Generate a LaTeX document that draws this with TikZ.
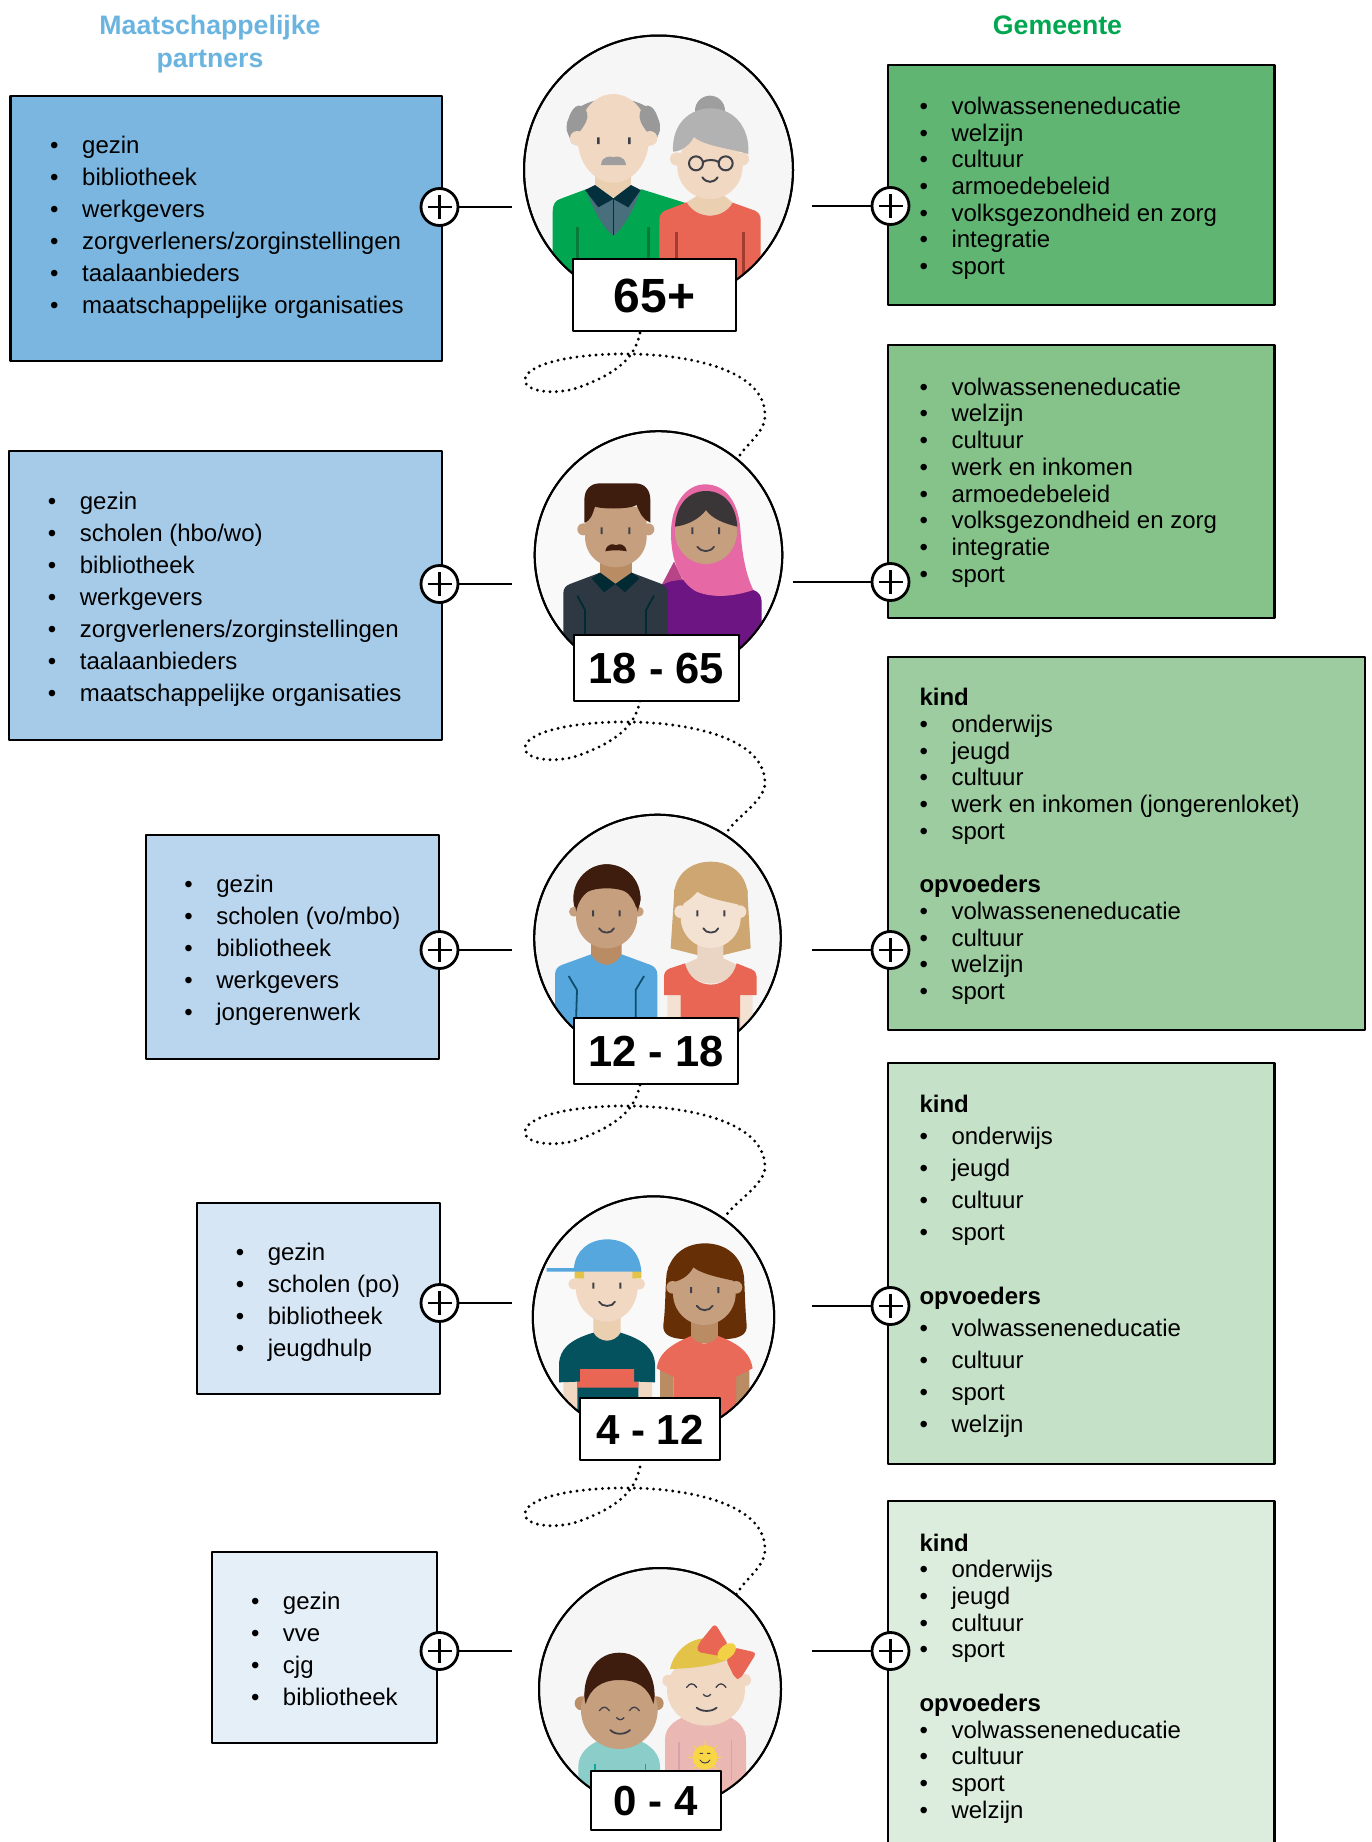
\documentclass[tikz,border=0pt]{standalone}
\usepackage{fontspec}
\setmainfont{Liberation Sans}
\definecolor{cL1}{HTML}{7AB6DF}
\definecolor{cL2}{HTML}{A5CBE9}
\definecolor{cL3}{HTML}{BAD6EE}
\definecolor{cL4}{HTML}{D6E6F5}
\definecolor{cL5}{HTML}{E5EFF8}
\definecolor{cR1}{HTML}{60B572}
\definecolor{cR2}{HTML}{85C38A}
\definecolor{cR3}{HTML}{9CCC9F}
\definecolor{cR4}{HTML}{C5E1C8}
\definecolor{cR5}{HTML}{DCEDDD}
\definecolor{tblue}{HTML}{6CB4E0}
\definecolor{tgreen}{HTML}{00A650}
\definecolor{skinA}{HTML}{F1D8C3}
\definecolor{neckA}{HTML}{EBCFB1}
\definecolor{skinB}{HTML}{C69F7F}
\definecolor{neckB}{HTML}{B98C63}
\definecolor{skinC}{HTML}{F3E1D2}
\definecolor{neckC}{HTML}{EAD5C4}
\definecolor{darkbr}{HTML}{3E1C0E}
\definecolor{gface}{HTML}{3F3F48}
\definecolor{coral}{HTML}{E96554}
\definecolor{sky}{HTML}{56A7DE}
\definecolor{yell}{HTML}{E3C448}
\pgfdeclarelayer{bg}
\pgfsetlayers{bg,main}
\tikzset{
  bx/.style={draw=black,line width=2.8pt,inner sep=0pt,outer sep=0pt,anchor=north west},
  ring/.style={circle,draw=black,line width=2pt,inner sep=0pt,outer sep=0pt},
  lbl/.style={draw=black,fill=white,line width=2.2pt,inner sep=0pt,outer sep=0pt,font=\bfseries},
  plusn/.style={circle,draw=black,fill=white,line width=2.8pt,minimum size=37pt,inner sep=0pt,outer sep=0pt,
    path picture={\draw[line width=2.2pt] (path picture bounding box.center) ++(-12,0) -- ++(24,0) ++(-12,-12) -- ++(0,24);}},
  conn/.style={draw=black,line width=2.8pt},
  dots/.style={draw=black,line width=3.2pt,line cap=round,dash pattern=on 0pt off 6.4pt},
  fea/.style={draw=gface,line width=1.8pt,line cap=round,fill=none},
  ttl/.style={font=\fontsize{26.7}{33}\selectfont\bfseries,align=center,inner sep=0pt},
}
\newcommand\bl[1]{\rule{0pt}{20pt}\makebox[32pt][l]{•}#1\par}
\newcommand\hd[1]{\rule{0pt}{20pt}\textbf{#1}\par}
\newcommand\gap{\vskip\baselineskip}
\newcommand\lowr[2]{\raisebox{-#1pt}[0pt][0pt]{#2}}
% name, at, w, h, colour, inset, leading, first baseline, lines
\newcommand\txtbox[9]{\node[bx,fill=#5] (#1) at (#2) {\parbox[c][#4pt][t]{#3pt}{\fontsize{24}{#7}\selectfont\leftskip=#6pt\relax\parindent=0pt\rightskip=0pt plus 1fil\relax\vspace*{\dimexpr#8pt-20pt\relax}#9}};}
% curve from a coordinate to a circle; end x, end y
\newcommand\squig[4]{\begin{pgfonlayer}{bg}\path[dots] (#1) .. controls ([shift={(-4,17)}]#1) and ([shift={(-12,37)}]#1) .. ([shift={(-63,55)}]#1) .. controls ([shift={(-85,62)}]#1) and ([shift={(-115,59)}]#1) .. ([shift={(-115,47)}]#1) .. controls ([shift={(-115,32)}]#1) and ([shift={(-70,20)}]#1) .. ([shift={(-8,21)}]#1) .. controls ([shift={(50,22)}]#1) and ([shift={(125,37)}]#1) .. ([shift={(125,82)}]#1) .. controls ([shift={(125,100)}]#1) and (#3+8,#4-14) .. (#3,#4) -- (#2);\end{pgfonlayer}}
\begin{document}
\begin{tikzpicture}[x=1pt,y=-1pt,line join=round]
\useasboundingbox (0,0) rectangle (1371,1842);
\clip (0,0) rectangle (1371,1842);
% titles
\node[ttl,text=tblue] (t1) at (210,44) {Maatschappelijke\\partners};
\node[ttl,text=tgreen] (t2) at (1057.5,25) {Gemeente};
% left boxes
\txtbox{L1}{10.5,96}{431.5}{265}{cL1}{39.7}{32}{57.3}{\bl{gezin}\bl{bibliotheek}\bl{werkgevers}\bl{zorgverleners/zorginstellingen}\bl{taalaanbieders}\bl{maatschappelijke organisaties}}
\txtbox{L2}{9,451}{433}{289}{cL2}{38.9}{32}{58.1}{\bl{gezin}\bl{scholen (hbo/wo)}\bl{bibliotheek}\bl{werkgevers}\bl{zorgverleners/zorginstellingen}\bl{taalaanbieders}\bl{maatschappelijke organisaties}}
\txtbox{L3}{146,835}{293}{224}{cL3}{38.4}{32}{57.1}{\bl{gezin}\bl{scholen (vo/mbo)}\bl{bibliotheek}\bl{werkgevers}\bl{jongerenwerk}}
\txtbox{L4}{197,1203}{243}{191}{cL4}{38.8}{32}{57.3}{\bl{gezin}\bl{scholen (po)}\bl{bibliotheek}\bl{jeugdhulp}}
\txtbox{L5}{212,1552}{225}{191}{cL5}{39}{32}{57.8}{\bl{gezin}\bl{vve}\bl{cjg}\bl{bibliotheek}}
% right boxes
\txtbox{R1}{888,65}{386.5}{240}{cR1}{31.5}{26.7}{49.4}{\bl{volwasseneneducatie}\bl{welzijn}\bl{cultuur}\bl{armoedebeleid}\bl{volksgezondheid en zorg}\bl{integratie}\bl{sport}}
\txtbox{R2}{888,345}{386.5}{273}{cR2}{31.5}{26.7}{50.2}{\bl{volwasseneneducatie}\bl{welzijn}\bl{cultuur}\bl{werk en inkomen}\bl{armoedebeleid}\bl{volksgezondheid en zorg}\bl{integratie}\bl{sport}}
\txtbox{R3}{888,657}{477}{373}{cR3}{31.5}{26.7}{48.7}{\hd{kind}\bl{onderwijs}\bl{jeugd}\bl{cultuur}\bl{werk en inkomen (jongerenloket)}\bl{sport}\gap\hd{opvoeders}\bl{volwasseneneducatie}\bl{cultuur}\bl{welzijn}\bl{sport}}
\txtbox{R4}{888,1063}{386.5}{401}{cR4}{31.5}{32}{49.5}{\hd{kind}\bl{onderwijs}\bl{jeugd}\bl{cultuur}\bl{sport}\gap\hd{opvoeders}\bl{volwasseneneducatie}\bl{cultuur}\bl{sport}\bl{welzijn}}
\txtbox{R5}{888,1501}{386.5}{360}{cR5}{31.5}{26.7}{50.1}{\hd{kind}\bl{onderwijs}\bl{jeugd}\bl{cultuur}\bl{sport}\gap\hd{opvoeders}\bl{volwasseneneducatie}\bl{cultuur}\bl{sport}\bl{welzijn}}
% circles
\node[ring,fill=black!3.5,minimum size=269pt] (c1) at (658.5,170) {};
\node[ring,fill=black!2.5,minimum size=247.6pt] (c2) at (658.5,555) {};
\node[ring,fill=black!3.5,minimum size=246.6pt] (c3) at (657.5,938) {};
\node[ring,fill=black!2.5,minimum size=241.4pt] (c4) at (653.5,1317) {};
\node[ring,fill=black!3.5,minimum size=242pt] (c5) at (660,1689) {};
% figure 65+
\begin{scope}[shift={(500,20)},x=.33333pt,y=-.33333pt]
\clip (476,450) circle[radius=402];
\fill[black!40] (340,320) ellipse[x radius=140,y radius=85];
\fill[neckA] (285,460) rectangle (393,530);
\fill[skinA] (340,355) ellipse[x radius=107,y radius=133];
\fill[black!40] (200,330) .. controls (205,270) and (230,245) .. (252,262) .. controls (270,285) and (262,300) .. (250,320) -- (215,370) -- cycle;
\fill[black!40] (480,330) .. controls (475,270) and (450,245) .. (428,262) .. controls (412,285) and (418,300) .. (430,320) -- (465,370) -- cycle;
\fill[skinA] (232,355) circle[radius=22] (450,355) circle[radius=22];
\fill[black!38] (303,435) .. controls (305,405) and (335,408) .. (340,412) .. controls (345,408) and (375,405) .. (378,435) -- cycle;
\fill[gface] (291,352) rectangle (299,372) (384,352) rectangle (392,372);
\fill[tgreen] (158,800) -- (158,575) .. controls (158,555) and (165,542) .. (180,537) -- (258,508) -- (340,535) -- (425,508) -- (560,550) -- (560,800) -- cycle;
\fill[fill={rgb,255:red,74;green,111;blue,124}] (258,510) .. controls (280,570) and (310,625) .. (340,648) .. controls (370,625) and (400,570) .. (422,510) -- (340,537) -- cycle;
\fill[fill={rgb,255:red,3;green,48;blue,60}] (255,510) -- (285,495) -- (340,535) -- (393,495) -- (422,510) -- (385,562) -- (340,537) -- (295,562) -- cycle;
\draw[line width=1.3pt,color={rgb,255:red,3;green,48;blue,60}] (340,537) -- (340,645);
\draw[line width=3pt,color={rgb,255:red,10;green,122;blue,59}] (231,620) -- (231,725) (445,620) -- (445,725);
\fill[neckA] (560,547) .. controls (590,600) and (670,600) .. (698,548) -- (670,525) -- (595,525) -- cycle;
\fill[coral] (478,800) -- (478,600) .. controls (478,585) and (485,577) .. (495,572) -- (560,547) .. controls (590,600) and (670,600) .. (698,548) -- (765,572) .. controls (775,577) and (782,585) .. (782,600) -- (782,800) -- cycle;
\draw[line width=3pt,color={rgb,255:red,162;green,59;blue,48}] (528,636) -- (528,725) (730,636) -- (730,770);
\fill[black!38] (630,272) circle[radius=45];
\fill[skinA] (530,417) circle[radius=20] (727,417) circle[radius=20];
\fill[skinA] (630,440) ellipse[x radius=98,y radius=97];
\fill[black!30] (519,395) .. controls (515,310) and (570,265) .. (632,265) .. controls (700,265) and (750,320) .. (745,402) .. controls (690,385) and (620,380) .. (582,352) .. controls (565,380) and (540,395) .. (519,395);
\draw[fea,line width=2pt] (588,430) circle[radius=21] (677,430) circle[radius=21] (609,426) .. controls (620,418) and (645,418) .. (656,426);
\draw[fea,line width=2pt] (607,472) .. controls (620,490) and (640,490) .. (653,472);
\end{scope}
% figure 18-65
\begin{scope}[shift={(500,330)},x=.33333pt,y=-.33333pt]
\clip (475.5,675) circle[radius=370];
\fill[fill={rgb,255:red,108;green,21;blue,131}] (485,765) .. controls (500,755) and (520,750) .. (545,748) -- (760,780) .. controls (775,785) and (785,797) .. (785,815) -- (785,960) -- (485,960) -- cycle;
\fill[fill={rgb,255:red,184;green,68;blue,136}] (485,765) -- (522,695) -- (548,750) .. controls (525,750) and (500,755) .. (485,765);
\fill[fill={rgb,255:red,230;green,104;blue,164}] (513,610) .. controls (513,520) and (560,463) .. (615,463) .. controls (680,463) and (718,520) .. (722,610) .. controls (727,680) and (740,740) .. (760,780) .. controls (700,800) and (640,805) .. (590,785) .. controls (540,760) and (513,690) .. (513,610);
\fill[skinB] (618,605) ellipse[x radius=93,y radius=97];
\fill[fill={rgb,255:red,58;green,54;blue,56}] (525,590) .. controls (528,525) and (565,483) .. (618,483) .. controls (672,483) and (708,525) .. (712,590) .. controls (670,580) and (635,565) .. (618,540) .. controls (600,565) and (565,585) .. (525,590);
\fill[gface] (574,592) rectangle (580,612) (654,592) rectangle (660,612);
\draw[fea] (592,650) .. controls (605,668) and (630,668) .. (642,650);
\fill[neckB] (300,690) rectangle (395,765);
\fill[skinB] (250,598) circle[radius=18] (445,598) circle[radius=18];
\fill[skinB] (255,530) -- (440,530) -- (440,620) .. controls (440,680) and (390,712) .. (347,712) .. controls (305,712) and (255,680) .. (255,620) -- cycle;
\fill[darkbr] (253,578) -- (253,510) .. controls (253,480) and (270,460) .. (300,460) -- (405,460) .. controls (435,460) and (451,480) .. (451,510) -- (451,578) .. controls (430,570) and (420,550) .. (410,525) .. controls (390,538) and (310,538) .. (285,530) .. controls (278,550) and (275,570) .. (253,578);
\fill[darkbr] (316,664) .. controls (320,640) and (340,640) .. (348,646) .. controls (356,640) and (376,640) .. (380,664) .. controls (365,660) and (330,660) .. (316,664);
\fill[gface] (302,592) rectangle (308,612) (385,592) rectangle (391,612);
\fill[fill={rgb,255:red,45;green,56;blue,67}] (190,960) -- (190,790) .. controls (190,775) and (197,767) .. (210,762) -- (300,728) -- (347,762) -- (395,728) -- (485,762) .. controls (497,767) and (503,777) .. (503,790) -- (503,960) -- cycle;
\fill[fill={rgb,255:red,2;green,42;blue,51}] (275,745) -- (300,728) -- (346,762) -- (395,728) -- (418,745) -- (375,787) -- (346,762) -- (312,787) -- cycle;
\draw[line width=1.8pt,color={rgb,255:red,2;green,42;blue,51}] (232,797) -- (255,840) -- (255,930) (462,797) -- (438,840) -- (438,930);
\end{scope}
% figure 12-18
\begin{scope}[shift={(500,800)},x=.33333pt,y=-.33333pt]
\clip (473.5,413) circle[radius=369];
\fill[neckB] (273,420) -- (365,420) -- (365,470) .. controls (345,505) and (295,505) .. (273,470) -- cycle;
\fill[sky] (165,720) -- (165,525) .. controls (165,510) and (172,500) .. (185,495) -- (273,463) .. controls (295,505) and (345,505) .. (365,463) -- (452,495) .. controls (465,500) and (472,510) .. (472,525) -- (472,720) -- cycle;
\draw[line width=1.8pt,color={rgb,255:red,14;green,79;blue,108}] (206,528) -- (231,570) -- (228,665) (432,528) -- (407,570) -- (407,665);
\fill[darkbr] (320,295) ellipse[x radius=100,y radius=102];
\fill[skinB] (222,335) circle[radius=15] (416,335) circle[radius=15];
\fill[skinB] (320,350) ellipse[x radius=92,y radius=95];
\fill[darkbr] (222,300) .. controls (222,235) and (270,193) .. (320,193) .. controls (375,193) and (422,235) .. (422,300) -- (413,335) .. controls (410,290) and (385,265) .. (320,265) .. controls (255,265) and (232,290) .. (229,335) -- cycle;
\fill[gface] (276,331) rectangle (282,349) (356,331) rectangle (362,349);
\draw[fea] (297,385) .. controls (305,402) and (335,402) .. (342,385);
\fill[fill={rgb,255:red,206;green,166;blue,113}] (522,290) .. controls (522,225) and (570,185) .. (632,185) .. controls (695,185) and (743,225) .. (743,290) -- (752,445) -- (670,465) -- (592,465) -- (512,445) -- cycle;
\fill[skinC] (502,585) rectangle (542,720) (720,585) rectangle (758,720);
\fill[neckC] (592,420) -- (670,420) -- (670,475) -- (712,495) .. controls (690,570) and (575,570) .. (555,492) -- (592,475) -- cycle;
\fill[coral] (492,585) -- (492,530) .. controls (492,518) and (498,510) .. (510,505) -- (555,490) .. controls (575,575) and (690,575) .. (710,490) -- (755,508) .. controls (765,513) and (770,520) .. (770,530) -- (770,585) -- (720,585) -- (720,720) -- (542,720) -- (542,585) -- cycle;
\fill[skinC] (632,352) ellipse[x radius=90,y radius=92];
\fill[fill={rgb,255:red,206;green,166;blue,113}] (522,320) .. controls (550,315) and (575,295) .. (592,275) .. controls (630,300) and (690,305) .. (740,320) -- (743,270) -- (632,200) -- (522,270) -- cycle;
\fill[skinC] (542,335) circle[radius=19] (720,335) circle[radius=19];
\fill[gface] (589,331) rectangle (595,349) (670,331) rectangle (676,349);
\draw[fea] (610,385) .. controls (618,402) and (648,402) .. (655,385);
\end{scope}
% figure 4-12
\begin{scope}[shift={(500,1180)},x=.33333pt,y=-.33333pt]
\clip (460.5,412) circle[radius=362];
\fill[skinA] (190,600) rectangle (232,720) (415,600) rectangle (456,720);
\fill[neckA] (280,400) -- (362,400) -- (362,465) .. controls (345,490) and (298,490) .. (280,465) -- cycle;
\fill[fill={rgb,255:red,4;green,82;blue,94}] (177,607) -- (177,550) .. controls (180,510) and (205,480) .. (280,458) .. controls (298,490) and (345,490) .. (362,458) .. controls (435,480) and (462,510) .. (465,550) -- (465,607) -- (415,605) -- (415,720) -- (232,720) -- (232,605) -- cycle;
\fill[coral] (240,567) -- (402,567) -- (402,605) -- (415,605) -- (415,623) -- (232,623) -- (232,605) -- (240,605) -- cycle;
\fill[skinA] (222,312) circle[radius=17] (418,312) circle[radius=17];
\fill[skinA] (320,320) ellipse[x radius=93,y radius=105];
\fill[yell] (224,270) rectangle (252,295) (397,270) rectangle (424,295);
\fill[sky] (140,264) -- (222,264) .. controls (225,215) and (265,178) .. (322,178) .. controls (380,178) and (420,215) .. (424,275) -- (140,275) -- cycle;
\fill[gface] (277,308) rectangle (283,326) (358,308) rectangle (364,326);
\draw[fea] (297,365) .. controls (305,382) and (338,382) .. (345,365);
\fill[fill={rgb,255:red,102;green,47;blue,5}] (490,435) .. controls (497,380) and (495,330) .. (500,280) .. controls (515,215) and (565,190) .. (615,190) .. controls (680,190) and (725,230) .. (732,290) .. controls (735,340) and (735,380) .. (740,435) .. controls (742,465) and (720,478) .. (655,478) -- (573,478) .. controls (510,478) and (488,465) .. (490,435);
\fill[neckB] (480,570) rectangle (520,720) (708,570) rectangle (748,720);
\fill[neckB] (573,410) rectangle (655,490);
\fill[fill={rgb,255:red,233;green,106;blue,88}] (470,565) .. controls (475,530) and (495,500) .. (573,468) .. controls (590,498) and (635,498) .. (655,468) .. controls (735,498) and (752,530) .. (758,565) -- (708,590) -- (708,730) -- (520,730) -- (520,590) -- cycle;
\fill[skinB] (613,340) ellipse[x radius=94,y radius=95];
\fill[fill={rgb,255:red,102;green,47;blue,5}] (500,310) .. controls (540,305) and (565,290) .. (580,262) .. controls (610,285) and (670,295) .. (728,308) -- (725,260) -- (615,200) -- (505,260) -- cycle;
\fill[skinB] (518,322) circle[radius=19] (708,322) circle[radius=19];
\fill[gface] (570,321) rectangle (576,339) (652,321) rectangle (658,339);
\draw[fea] (590,377) .. controls (600,395) and (628,395) .. (638,377);
\end{scope}
% figure 0-4
\begin{scope}[shift={(500,1540)},x=.33333pt,y=-.33333pt]
\clip (480,447) circle[radius=362];
\fill[fill={rgb,255:red,138;green,205;blue,201}] (235,810) -- (235,680) .. controls (235,640) and (265,615) .. (300,600) -- (415,600) .. controls (450,615) and (480,640) .. (480,680) -- (480,810) -- cycle;
\draw[line width=1.3pt,color={rgb,255:red,17;green,165;blue,154}] (285,672) -- (285,720) (436,672) -- (436,720);
\fill[neckB!90!skinB] (245,490) circle[radius=21] (470,490) circle[radius=21];
\fill[skinB] (358,510) ellipse[x radius=115,y radius=117];
\fill[darkbr] (257,492) .. controls (242,440) and (270,338) .. (358,338) .. controls (445,338) and (475,440) .. (460,492) .. controls (445,440) and (410,420) .. (358,420) .. controls (305,420) and (270,445) .. (257,492);
\draw[fea,line width=1.3pt] (298,512) .. controls (308,498) and (318,498) .. (328,512) (388,512) .. controls (398,498) and (408,498) .. (418,512) (350,533) .. controls (356,541) and (366,541) .. (372,533);
\draw[fea] (331,570) .. controls (345,585) and (375,585) .. (390,570);
\fill[fill={rgb,255:red,234;green,183;blue,178}] (495,810) -- (495,600) .. controls (495,565) and (520,540) .. (560,528) -- (680,528) .. controls (715,540) and (738,565) .. (738,600) -- (738,810) -- cycle;
\draw[line width=1.3pt,color={rgb,255:red,217;green,160;blue,176}] (537,607) -- (537,700) (695,600) -- (695,720);
\fill[skinA] (505,422) circle[radius=18] (735,420) circle[radius=18];
\fill[skinA] (618,450) ellipse[x radius=117,y radius=107];
\fill[yell] (510,387) .. controls (520,340) and (560,300) .. (610,295) -- (680,360) .. controls (630,380) and (570,385) .. (510,387);
\fill[coral,rounded corners=4pt] (645,250) -- (685,315) -- (670,350) -- (590,335) -- (595,312) -- cycle;
\fill[coral,rounded corners=4pt] (678,360) -- (700,322) -- (770,338) -- (720,418) -- (705,415) -- cycle;
\fill[fill={rgb,255:red,243;green,209;blue,71},rotate around={40:(680,335)}] (680,335) ellipse[x radius=32,y radius=20];
\draw[fea,line width=1.3pt] (560,442) .. controls (570,428) and (580,428) .. (590,442) (648,442) .. controls (658,428) and (668,428) .. (678,442) (610,463) .. controls (616,471) and (626,471) .. (632,463);
\draw[fea] (590,503) .. controls (605,516) and (635,516) .. (650,503);
\draw[line width=1pt,color={rgb,255:red,248;green,214;blue,69}] (615,602) -- (615,702) (565,652) -- (665,652) (580,617) -- (650,687) (650,617) -- (580,687);
\fill[fill={rgb,255:red,248;green,214;blue,69}] (615,652) circle[radius=37];
\draw[fea,line width=1pt] (600,640) -- (608,640) (622,640) -- (630,640) (600,660) .. controls (607,672) and (623,672) .. (630,660);
\end{scope}
\draw[draw=black,line width=2pt] (c1.center) ++(134.5,0) arc[start angle=0,end angle=360,radius=134.5];
\draw[draw=black,line width=2pt] (c2.center) ++(123.8,0) arc[start angle=0,end angle=360,radius=123.8];
\draw[draw=black,line width=2pt] (c3.center) ++(123.3,0) arc[start angle=0,end angle=360,radius=123.3];
\draw[draw=black,line width=2pt] (c4.center) ++(120.7,0) arc[start angle=0,end angle=360,radius=120.7];
\draw[draw=black,line width=2pt] (c5.center) ++(121,0) arc[start angle=0,end angle=360,radius=121];
% age labels
\node[lbl,minimum width=163pt,minimum height=72pt,font=\fontsize{48}{50}\selectfont\bfseries] (l1) at (654.5,295) {\lowr{17.7}{65+}};
\node[lbl,minimum width=165pt,minimum height=66pt,font=\fontsize{43.5}{46}\selectfont\bfseries] (l2) at (656.5,668) {\lowr{15.8}{18 - 65}};
\node[lbl,minimum width=164pt,minimum height=66pt,font=\fontsize{43.5}{46}\selectfont\bfseries] (l3) at (656,1051) {\lowr{15.8}{12 - 18}};
\node[lbl,minimum width=140pt,minimum height=62pt,font=\fontsize{42}{44}\selectfont\bfseries] (l4) at (650,1429) {\lowr{15}{4 - 12}};
\node[lbl,minimum width=130pt,minimum height=59pt,font=\fontsize{42}{44}\selectfont\bfseries] (l5) at (656,1800.5) {\lowr{15}{0 - 4}};
% dotted curves
\coordinate (s1) at (640,333);
\coordinate (s2) at (640,701);
\coordinate (s3) at (640,1085);
\coordinate (s4) at (640,1467);
\squig{s1}{c2}{738}{458}
\squig{s2}{c3}{727}{832}
\squig{s3}{c4}{725}{1217}
\squig{s4}{c5}{738}{1592}
% connectors
\coordinate (eL1) at (512,207);
\coordinate (eL2) at (512,584);
\coordinate (eL3) at (512,950);
\coordinate (eL4) at (512,1303);
\coordinate (eL5) at (512,1651);
\coordinate (eR1) at (812,206);
\coordinate (eR2) at (793,582);
\coordinate (eR3) at (812,950);
\coordinate (eR4) at (812,1306);
\coordinate (eR5) at (812,1651);
\node[plusn] (pL1) at (439.5,207) {};
\node[plusn] (pL2) at (439.5,584) {};
\node[plusn] (pL3) at (439.5,950) {};
\node[plusn] (pL4) at (439.5,1303) {};
\node[plusn] (pL5) at (439.5,1651) {};
\node[plusn] (pR1) at (890.5,206) {};
\node[plusn] (pR2) at (890.5,582) {};
\node[plusn] (pR3) at (890.5,950) {};
\node[plusn] (pR4) at (890.5,1306) {};
\node[plusn] (pR5) at (890.5,1651) {};
\draw[conn] (pL1) -- (eL1);
\draw[conn] (pL2) -- (eL2);
\draw[conn] (pL3) -- (eL3);
\draw[conn] (pL4) -- (eL4);
\draw[conn] (pL5) -- (eL5);
\draw[conn] (eR1) -- (pR1);
\draw[conn] (eR2) -- (pR2);
\draw[conn] (eR3) -- (pR3);
\draw[conn] (eR4) -- (pR4);
\draw[conn] (eR5) -- (pR5);
\end{tikzpicture}
\end{document}
